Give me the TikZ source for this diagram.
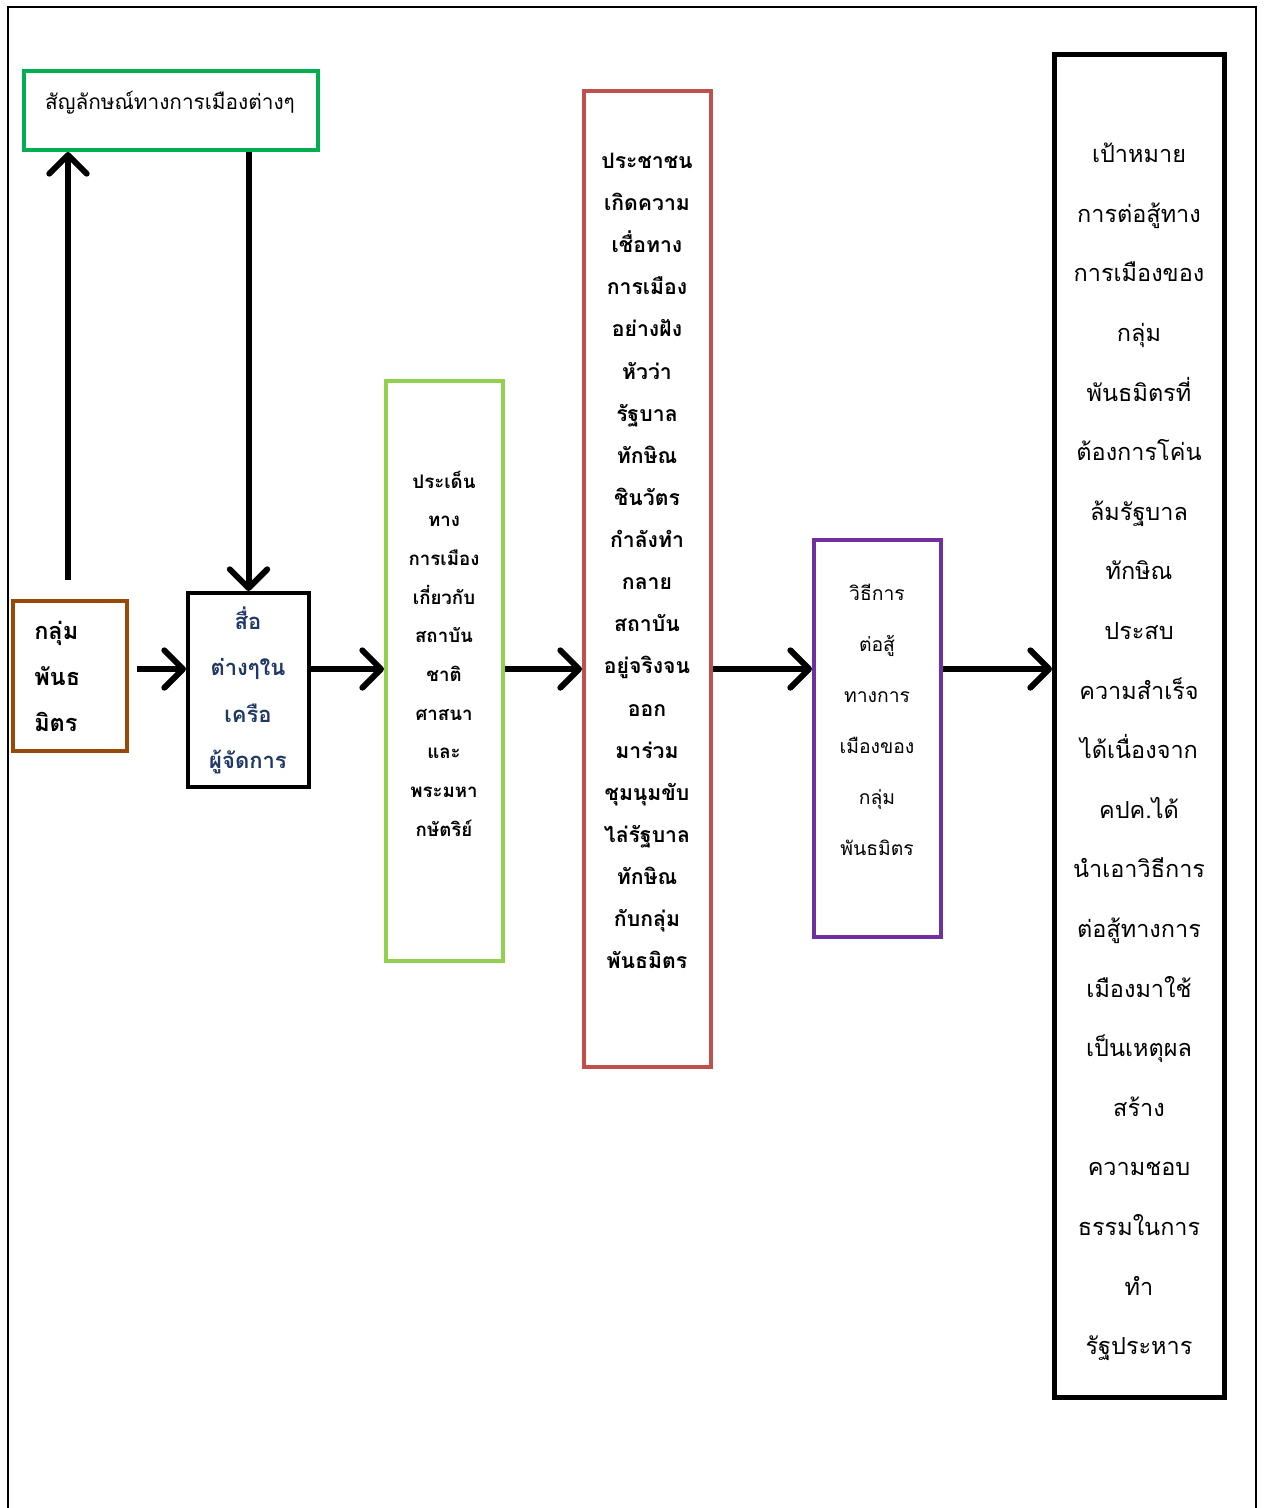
\documentclass[tikz,border=0pt]{standalone}
\usepackage{fontspec}
\newfontfamily\thaifont[Script=Thai]{Loma}
\usetikzlibrary{arrows.meta}
\definecolor{cgreen}{HTML}{00B050}
\definecolor{clgreen}{HTML}{92D050}
\definecolor{cred}{HTML}{C0504D}
\definecolor{cpurple}{HTML}{7030A0}
\definecolor{corange}{HTML}{984807}
\definecolor{cblue}{HTML}{1F3864}
\begin{document}
\begin{tikzpicture}[x=0.75pt,y=-0.75pt,
  boxframe/.style={draw, line width=3pt, fill=white, inner sep=0pt},
  flow/.style={line width=4.5pt, -{Straight Barb[length=14pt,width=28pt,round]}},
  txt/.style={inner sep=0pt, align=center, text=black}]
\useasboundingbox (0,0) rectangle (1264,1508);
\draw[line width=1.5pt] (8,1508) -- (8,7) -- (1256,7) -- (1256,1508);

% boxes
\node[boxframe, draw=cgreen, minimum width=220.5pt, minimum height=59.25pt] (sym) at (171,110.5) {};
\node[boxframe, draw=corange, minimum width=85.5pt, minimum height=112.5pt] (grp) at (70,676) {};
\node[boxframe, draw=black, minimum width=90.75pt, minimum height=145.5pt] (media) at (248.5,690) {};
\node[boxframe, draw=clgreen, minimum width=87.75pt, minimum height=435pt] (issue) at (444.5,671) {};
\node[boxframe, draw=cred, minimum width=95.25pt, minimum height=732pt] (belief) at (647.5,579) {};
\node[boxframe, draw=cpurple, minimum width=95.25pt, minimum height=297.75pt] (method) at (877.5,738.5) {};
\node[boxframe, draw=black, line width=3.75pt, minimum width=127.5pt, minimum height=1007.25pt] (goal) at (1139.5,726) {};

% texts
\node[txt, font=\thaifont\fontsize{15.6}{18}\selectfont] (symt) at (170,103) {สัญลักษณ์ทางการเมืองต่างๆ};
\node[txt, anchor=west, align=left, font=\thaifont\bfseries\fontsize{17.6}{34.5}\selectfont] (grpt) at (34,676) {กลุ่ม\\พันธ\\มิตร};
\node[txt, text=cblue, font=\thaifont\bfseries\fontsize{16.5}{34.7}\selectfont] (mediat) at (248,690.5) {สื่อ\\ต่างๆใน\\เครือ\\ผู้จัดการ};
\node[txt, font=\thaifont\bfseries\fontsize{14}{29}\selectfont] (issuet) at (444,653.5) {ประเด็น\\ทาง\\การเมือง\\เกี่ยวกับ\\สถาบัน\\ชาติ\\ศาสนา\\และ\\พระมหา\\กษัตริย์};
\node[txt, font=\thaifont\bfseries\fontsize{15.9}{31.6}\selectfont] (belieft) at (647,561) {ประชาชน\\เกิดความ\\เชื่อทาง\\การเมือง\\อย่างฝัง\\หัวว่า\\รัฐบาล\\ทักษิณ\\ชินวัตร\\กำลังทำ\\กลาย\\สถาบัน\\อยู่จริงจน\\ออก\\มาร่วม\\ชุมนุมขับ\\ไล่รัฐบาล\\ทักษิณ\\กับกลุ่ม\\พันธมิตร};
\node[txt, font=\thaifont\fontsize{14.5}{38.25}\selectfont] (methodt) at (877,720) {วิธีการ\\ต่อสู้\\ทางการ\\เมืองของ\\กลุ่ม\\พันธมิตร};
\node[txt, font=\thaifont\fontsize{17.6}{44.7}\selectfont] (goalt) at (1139,752) {เป้าหมาย\\การต่อสู้ทาง\\การเมืองของ\\กลุ่ม\\พันธมิตรที่\\ต้องการโค่น\\ล้มรัฐบาล\\ทักษิณ\\ประสบ\\ความสำเร็จ\\ได้เนื่องจาก\\คปค.ได้\\นำเอาวิธีการ\\ต่อสู้ทางการ\\เมืองมาใช้\\เป็นเหตุผล\\สร้าง\\ความชอบ\\ธรรมในการ\\ทำ\\รัฐประหาร};

% connectors
\coordinate (rowy) at (0,669);
\draw[flow, shorten <=14pt] ([xshift=-1.5pt]grp.north) -- ([xshift=-1.5pt]grp.north |- sym.south);
\draw[flow] (media.north |- sym.south) -- (media.north);
\draw[flow, shorten <=6pt] (grp.east |- rowy) -- (media.west |- rowy);
\draw[flow] (media.east |- rowy) -- (issue.west |- rowy);
\draw[flow] (issue.east |- rowy) -- (belief.west |- rowy);
\draw[flow] (belief.east |- rowy) -- (method.west |- rowy);
\draw[flow] (method.east |- rowy) -- (goal.west |- rowy);
\end{tikzpicture}
\end{document}
